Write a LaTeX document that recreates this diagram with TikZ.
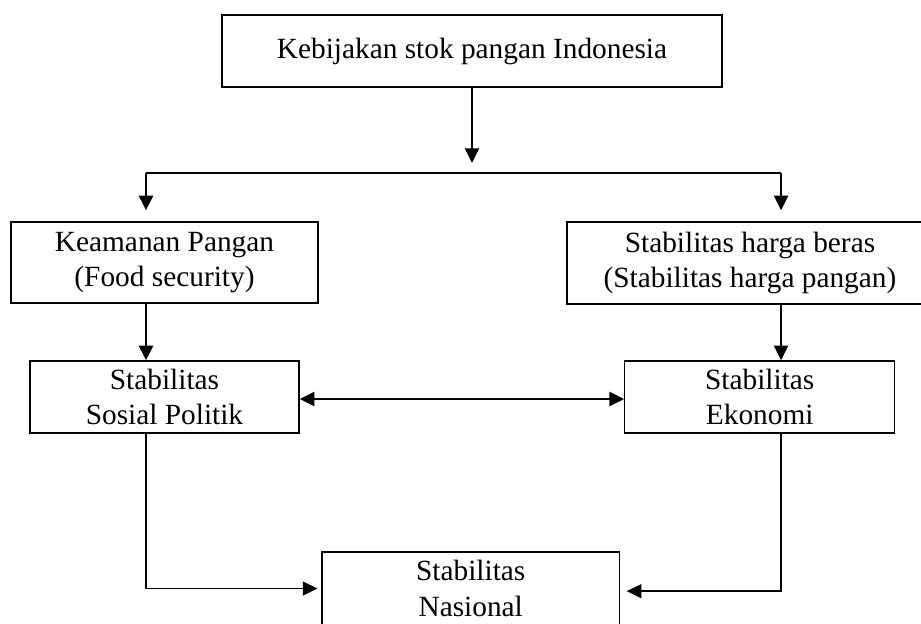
\documentclass[tikz,border=0pt]{standalone}
\usepackage{fontspec}
\setmainfont{Liberation Serif}
\usetikzlibrary{arrows.meta}
\begin{document}
\begin{tikzpicture}[x=0.75pt,y=-0.75pt,
  box/.style={draw,line width=1pt,align=center,inner sep=0pt,
    font=\fontsize{22}{26.5}\selectfont},
  arr/.style={line width=1.6pt,-{Triangle[length=11pt,width=10.5pt]}},
  darr/.style={line width=1.6pt,{Triangle[length=11pt,width=10.5pt]}-{Triangle[length=11pt,width=10.5pt]}},
  thinarr/.style={line width=1.1pt,-{Triangle[length=11pt,width=10.5pt]}},
  plain/.style={line width=1.6pt}]
\clip (0,0) rectangle (921,624);
\fill[white] (0,0) rectangle (921,624);
\node[box,minimum width=375pt,minimum height=54pt] (top) at (472,51) {Kebijakan stok pangan Indonesia};
\node[box,minimum width=230.25pt,minimum height=60.75pt] (keam) at (164.5,262.5) {Keamanan Pangan\\(Food security)};
\node[box,minimum width=274.5pt,minimum height=61.5pt] (harga) at (750,263) {Stabilitas harga beras\\(Stabilitas harga pangan)};
\node[box,minimum width=201.75pt,minimum height=54pt] (sosial) at (164.5,397) {Stabilitas\\Sosial Politik};
\node[box,minimum width=202.5pt,minimum height=54pt] (ekonomi) at (759.75,397) {Stabilitas\\Ekonomi};
\node[box,minimum width=223pt,minimum height=54.75pt] (nasional) at (470.75,588.5) {Stabilitas\\Nasional};
\coordinate (tip) at (472,163);
\coordinate (jl) at (146,173);
\coordinate (jr) at (781,173);
\draw[arr] (top.south -| tip) -- (tip);
\draw[plain] (jl) -- (jr);
\draw[arr,shorten >=8.25pt] (jl) -- (jl |- keam.north);
\draw[arr,shorten >=8.25pt] (jr) -- (jr |- harga.north);
\draw[arr] (keam.south -| jl) -- (sosial.north -| jl);
\draw[arr] (harga.south -| jr) -- (ekonomi.north -| jr);
\draw[darr] ([yshift=-1.5pt]sosial.east) -- ([yshift=-1.5pt]ekonomi.west);
\draw[thinarr,shorten >=3pt] (sosial.south -| jl) |- (nasional.west);
\draw[thinarr,shorten >=5pt] (ekonomi.south -| jr) |- ([yshift=-2pt]nasional.east);
\end{tikzpicture}
\end{document}
